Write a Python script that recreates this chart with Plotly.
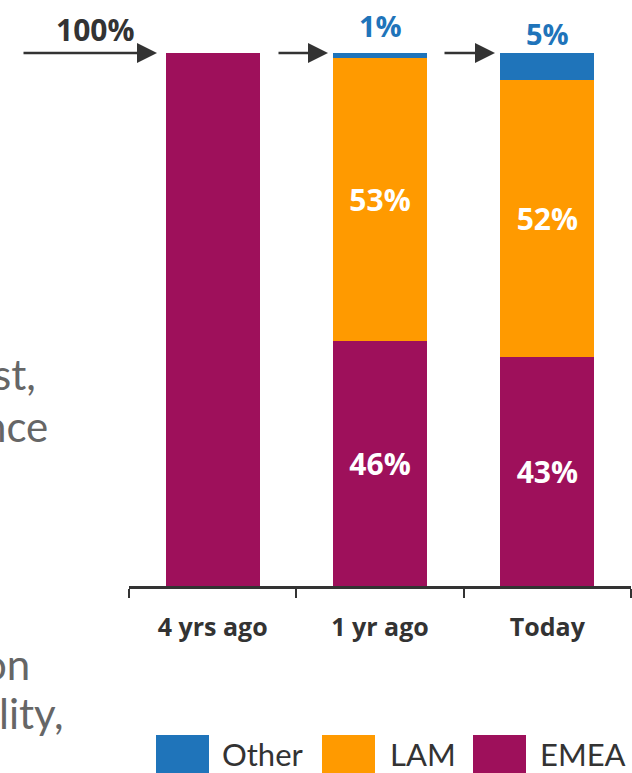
import plotly.graph_objects as go

# Regional mix over time (percent of total)
periods = ["4 yrs ago", "1 yr ago", "Today"]
emea = [100, 46, 43]
lam = [0, 53, 52]
other = [0, 1, 5]

C_EMEA = "#9E105B"
C_LAM = "#FF9A00"
C_OTHER = "#1F74BA"
DARK = "#333333"
GREY = "#666666"

W, H = 632, 773
M_L, M_R, M_T, M_B = 129, 1, 53, 187
PW = W - M_L - M_R
PH = H - M_T - M_B


def px_x(p):
    return (p - M_L) / PW


def px_y(p):
    return (H - M_B - p) / PH


def inside(vals):
    return [f"{v}%" if 10 <= v < 100 else "" for v in vals]


fig = go.Figure()
for name, vals, col in [("EMEA", emea, C_EMEA), ("LAM", lam, C_LAM), ("Other", other, C_OTHER)]:
    fig.add_trace(go.Bar(
        x=periods, y=vals, name=name, marker=dict(color=col, line=dict(width=0)),
        text=inside(vals), textposition="inside", insidetextanchor="middle",
        textangle=0, constraintext="none",
        textfont=dict(family="Open Sans", size=30, color="white", weight="bold"),
        showlegend=False, width=0.56,
    ))

anns = []
# Start value of the first period
anns.append(dict(x=px_x(95), y=px_y(29), xref="paper", yref="paper",
                 xanchor="center", yanchor="middle",
                 text=f"{emea[0]}%", showarrow=False,
                 font=dict(family="Open Sans", size=30, color=DARK, weight="bold")))
# "Other" share above the later bars
for i, dy in [(1, 0), (2, -8)]:
    anns.append(dict(x=periods[i], y=100, xref="x", yref="y", yanchor="bottom",
                     yshift=6 + dy, text=f"{other[i]}%", showarrow=False,
                     font=dict(family="Open Sans", size=29, color=C_OTHER, weight="bold")))

# Arrows leading into each bar
for tail, tip in [(22, 157), (277, 328), (443, 495)]:
    anns.append(dict(x=px_x(tip), y=1, xref="paper", yref="paper",
                     ax=tail - tip, ay=0, axref="pixel", ayref="pixel",
                     text="", showarrow=True, arrowhead=2, arrowsize=1.6,
                     arrowwidth=2.5, arrowcolor=DARK, standoff=0))

# Body text running off the left edge
for txt, right, cy in [("st,", 38, 374), ("nce", 50, 426), ("on", 32, 664), ("lity,", 66, 713)]:
    anns.append(dict(x=px_x(right), y=px_y(cy), xref="paper", yref="paper",
                     xanchor="right", yanchor="middle", text=txt, showarrow=False,
                     font=dict(family="Lato", size=42, color=GREY)))

# Legend with large swatches
shapes = []
for name, col, x0, tx in [("Other", C_OTHER, 156, 220), ("LAM", C_LAM, 322, 388), ("EMEA", C_EMEA, 473, 538)]:
    shapes.append(dict(type="rect", xref="paper", yref="paper",
                       x0=px_x(x0), x1=px_x(x0 + 53), y0=px_y(773), y1=px_y(735),
                       fillcolor=col, line=dict(width=0)))
    anns.append(dict(x=px_x(tx), y=px_y(754), xref="paper", yref="paper",
                     xanchor="left", yanchor="middle", text=name, showarrow=False,
                     font=dict(family="Lato", size=31, color=DARK)))

fig.update_layout(
    barmode="stack",
    width=W, height=H,
    margin=dict(l=M_L, r=M_R, t=M_T, b=M_B),
    plot_bgcolor="white", paper_bgcolor="white",
    annotations=anns, shapes=shapes,
    xaxis=dict(showline=True, linecolor=DARK, linewidth=2.5, ticks="outside",
               tickson="boundaries", ticklen=9, tickwidth=2, tickcolor=DARK,
               showgrid=False, ticklabelstandoff=17,
               tickfont=dict(family="Open Sans", size=25, color=DARK, weight="bold")),
    yaxis=dict(range=[0, 100], visible=False, showgrid=False),
)

fig.write_html("out.html")
